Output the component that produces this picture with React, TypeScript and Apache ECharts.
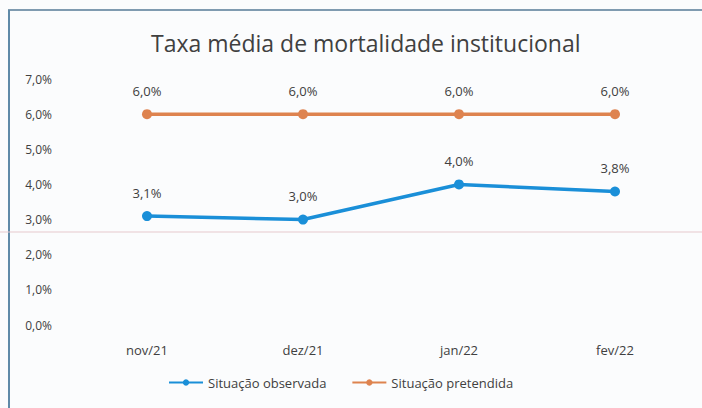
import React, { useEffect, useRef } from "react";
import * as echarts from "echarts";

const categories = ["nov/21", "dez/21", "jan/22", "fev/22"];
const observada = [3.1, 3.0, 4.0, 3.8];
const pretendida = [6.0, 6.0, 6.0, 6.0];
const seriesNames = ["Situação observada", "Situação pretendida"];
const titleText = "Taxa média de mortalidade institucional";

const FONT = "'Open Sans', 'Noto Sans', sans-serif";
const fmt = (v: number) => v.toFixed(1).replace(".", ",") + "%";

export default function App() {
  const ref = useRef<HTMLDivElement>(null);
  useEffect(() => {
    if (!ref.current) return;
    const chart = echarts.init(ref.current, undefined, { renderer: "svg" });
    const label = {
      show: true,
      position: "top",
      distance: 12,
      fontFamily: FONT,
      fontSize: 13,
      color: "#404040",
      formatter: (p: any) => fmt(p.value),
    };
    chart.setOption({
      animation: false,
      backgroundColor: "#fbfcfd",
      textStyle: { fontFamily: FONT },
      title: {
        text: titleText,
        left: 146,
        top: 26,
        textStyle: { fontFamily: FONT, fontSize: 23, fontWeight: "normal", color: "#404040" },
      },
      grid: { left: 69, right: 9, top: 79, bottom: 83 },
      legend: {
        bottom: 14,
        left: 163,
        itemGap: 25,
        itemWidth: 34,
        itemHeight: 8,
        textStyle: { fontFamily: FONT, fontSize: 13, color: "#404040" },
        data: seriesNames,
      },
      xAxis: {
        type: "category",
        data: categories,
        boundaryGap: true,
        axisLine: { show: false },
        axisTick: { show: false },
        axisLabel: { fontFamily: FONT, fontSize: 13, color: "#404040", margin: 18 },
      },
      yAxis: {
        type: "value",
        min: 0,
        max: 7,
        interval: 1,
        axisLine: { show: false },
        axisTick: { show: false },
        splitLine: { show: false },
        axisLabel: {
          fontFamily: FONT,
          fontSize: 12,
          color: "#404040",
          margin: 17,
          formatter: (v: number) => fmt(v),
        },
      },
      series: [
        {
          name: seriesNames[0],
          type: "line",
          data: observada,
          symbol: "circle",
          symbolSize: 10,
          lineStyle: { width: 3.5, color: "#1a8fd8" },
          itemStyle: { color: "#1a8fd8" },
          label,
        },
        {
          name: seriesNames[1],
          type: "line",
          data: pretendida,
          symbol: "circle",
          symbolSize: 10,
          lineStyle: { width: 3.5, color: "#de834f" },
          itemStyle: { color: "#de834f" },
          label,
        },
      ],
      graphic: [
        { type: "line", shape: { x1: 8, y1: 10, x2: 702, y2: 10 }, style: { stroke: "#7f9bb0", lineWidth: 2 } },
        { type: "line", shape: { x1: 9, y1: 10, x2: 9, y2: 408 }, style: { stroke: "#5f8aa8", lineWidth: 2 } },
        { type: "line", shape: { x1: 0, y1: 232, x2: 702, y2: 232 }, style: { stroke: "#e6c9cd", lineWidth: 1 } },
      ],
    });
    return () => chart.dispose();
  }, []);
  return <div ref={ref} style={{ width: 702, height: 408, position: "absolute", left: 0, top: 0 }} />;
}
